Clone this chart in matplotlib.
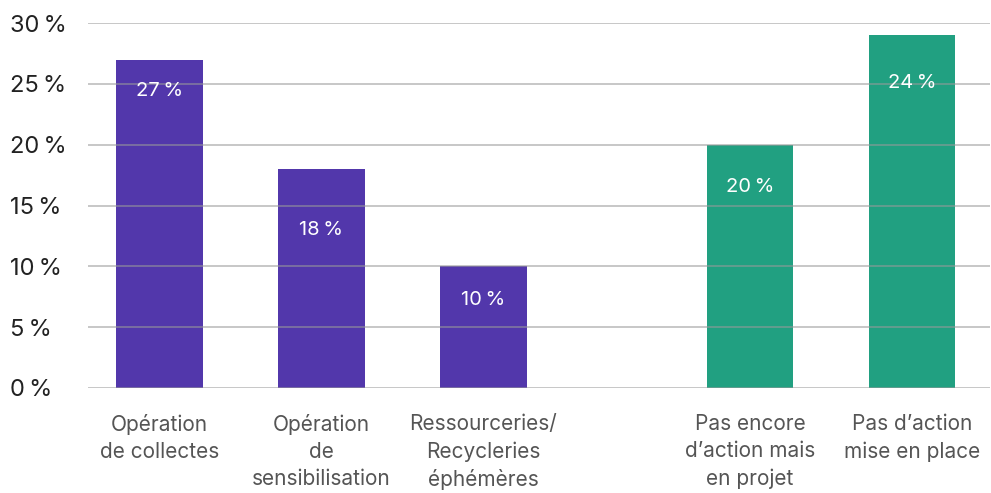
import matplotlib
matplotlib.use("Agg")
import matplotlib.pyplot as plt

categories = ["Opération\nde collectes", "Opération\nde\nsensibilisation",
              "Ressourceries/\nRecycleries\néphémères",
              "Pas encore\nd’action mais\nen projet", "Pas d’action\nmise en place"]
values = [27, 18, 10, 20, 29]
value_labels = ["27\u202f%", "18\u202f%", "10\u202f%", "20\u202f%", "24\u202f%"]
yticks = [0, 5, 10, 15, 20, 25, 30]

plt.rcParams["font.family"] = ["Inter", "DejaVu Sans"]

purple = "#5237AB"
green = "#21A081"
colors = [purple, purple, purple, green, green]
positions = [0, 1, 2, 3.645, 4.645]
label_drop = [31, 61, 34, 42, 48]  # pixels below bar top, as in the reference

fig = plt.figure(figsize=(9.91, 4.93), dpi=100)
ax = fig.add_axes([88 / 991, 105 / 493, 902 / 991, 365 / 493])

bars = ax.bar(positions, values, width=0.535, color=colors, zorder=1)
ax.set_xlim(-0.44, 5.127)
ax.set_ylim(0, 30)

for y in yticks:
    ax.axhline(y, color="#9a9a9a", linewidth=1.4, alpha=0.55, zorder=2)

for bar, lbl, drop in zip(bars, value_labels, label_drop):
    ax.annotate(lbl, (bar.get_x() + bar.get_width() / 2, bar.get_height()),
                xytext=(0, -drop * 0.72), textcoords="offset points",
                ha="center", va="center", color="white", fontsize=14.5, zorder=3)

ax.set_xticks(positions)
ax.set_xticklabels(categories, fontsize=15, color="#555555", linespacing=1.42)
ax.set_yticks(yticks)
ax.set_yticklabels([f"{v}\u202f%" for v in yticks], fontsize=17, color="#222222")
ax.tick_params(axis="x", length=0, pad=19)
ax.tick_params(axis="y", length=0, pad=56)
for t in ax.get_yticklabels():
    t.set_horizontalalignment("left")

for s in ax.spines.values():
    s.set_visible(False)

fig.savefig("out.png", dpi=100)
